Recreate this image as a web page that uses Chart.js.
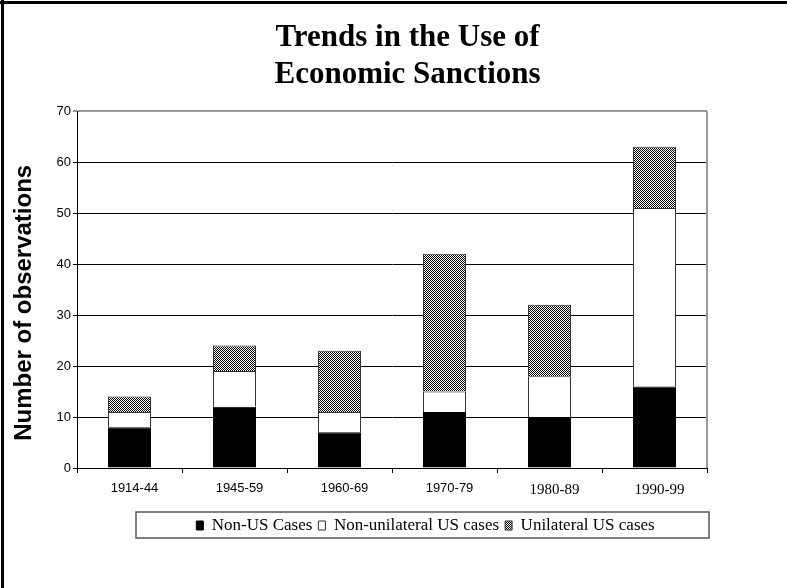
<!DOCTYPE html>
<html>
<head>
<meta charset="utf-8">
<script src="https://cdn.jsdelivr.net/npm/chart.js@4/dist/chart.umd.min.js"></script>
<style>
  body { margin: 0; background: #fff; }
  #wrap { width: 787px; height: 588px; }
</style>
</head>
<body>
<div id="wrap"><canvas id="barChart" width="787" height="588"></canvas></div>
<script>
// periods on the x axis
var periods = ['1914-44', '1945-59', '1960-69', '1970-79', '1980-89', '1990-99']
// stacked counts per period
var nonUsCases = [8, 12, 7, 11, 10, 16]
var nonUnilateralUs = [3, 7, 4, 4, 8, 35]
var unilateralUs = [3, 5, 12, 27, 14, 12]
var yTicks = [0, 10, 20, 30, 40, 50, 60, 70]

// little 2x2 checker used for the "unilateral" fill
function checker() {
  var c = document.createElement('canvas')
  c.width = 2; c.height = 2
  var g = c.getContext('2d')
  g.fillStyle = '#fff'; g.fillRect(0, 0, 2, 2)
  g.fillStyle = '#000'; g.fillRect(0, 0, 1, 1); g.fillRect(1, 1, 1, 1)
  return g.createPattern(c, 'repeat')
}
var ctx = document.getElementById('barChart').getContext('2d')
var dots = checker()

// nudge title / legend sideways, draw frame + legend box + right border
var decor = {
  id: 'decor',
  afterLayout: function (chart) {
    chart.titleBlock.left += 54; chart.titleBlock.right += 54
    chart.legend.left += 72; chart.legend.right += 72
  },
  afterDraw: function (chart) {
    var c = chart.ctx, a = chart.chartArea
    c.save()
    c.strokeStyle = '#999'; c.lineWidth = 2
    c.beginPath(); c.moveTo(a.right, a.top); c.lineTo(a.right, a.bottom); c.stroke()
    c.strokeStyle = '#000'; c.lineWidth = 3
    c.beginPath(); c.moveTo(0, 2.5); c.lineTo(787, 2.5); c.moveTo(2.5, 0); c.lineTo(2.5, 588); c.stroke()
    c.strokeStyle = '#555'; c.lineWidth = 1.5
    c.strokeRect(136, 512, 573, 26)
    c.restore()
  }
}

new Chart(ctx, {
  type: 'bar',
  data: {
    labels: periods,
    datasets: [
      { label: 'Non-US Cases', data: nonUsCases, backgroundColor: '#000', borderColor: '#000', borderWidth: 1 },
      { label: 'Non-unilateral US cases', data: nonUnilateralUs, backgroundColor: '#fff', borderColor: '#333', borderWidth: 1 },
      { label: 'Unilateral US cases', data: unilateralUs, backgroundColor: dots, borderColor: '#333', borderWidth: 1 }
    ]
  },
  options: {
    responsive: false,
    animation: false,
    layout: { padding: { top: 0, left: 0, right: 80, bottom: 44 } },
    datasets: { bar: { barPercentage: 0.41, categoryPercentage: 1 } },
    plugins: {
      title: {
        display: true,
        text: ['Trends in the Use of', 'Economic Sanctions'],
        color: '#000',
        font: { family: 'Liberation Serif', size: 31, weight: 'bold', lineHeight: 37 / 31 },
        padding: { top: 19, bottom: 18 }
      },
      legend: {
        position: 'bottom',
        labels: {
          color: '#000',
          font: { family: 'Liberation Serif', size: 17 },
          boxWidth: 7, boxHeight: 9, padding: 6
        }
      },
      tooltip: { enabled: false }
    },
    scales: {
      x: {
        stacked: true,
        grid: { drawOnChartArea: false, color: '#000', tickLength: 5 },
        border: { color: '#000' },
        ticks: {
          color: '#000', labelOffset: 5, padding: 8, maxRotation: 0,
          font: function (c) {
            return c.index >= 4 ? { family: 'Liberation Serif', size: 15 } : { family: 'Liberation Sans', size: 13 }
          }
        },
        afterFit: function (s) { s.height = 43 }
      },
      y: {
        stacked: true,
        min: 0, max: 70,
        afterBuildTicks: function (s) { s.ticks = yTicks.map(function (v) { return { value: v } }) },
        grid: {
          color: function (c) { return c.tick && c.tick.value === 70 ? '#999' : '#000' },
          lineWidth: function (c) { return c.tick && c.tick.value === 70 ? 2 : 1 },
          tickLength: 4
        },
        border: { color: '#000' },
        ticks: { color: '#000', padding: 2, font: { family: 'Liberation Sans', size: 13 } },
        title: {
          display: true,
          text: 'Number of observations\u00a0\u00a0\u00a0\u00a0',
          color: '#000',
          font: { family: 'Liberation Sans', size: 24, weight: 'bold' },
          padding: { top: 10, bottom: 0 }
        },
        afterFit: function (s) { s.width = 77 }
      }
    }
  },
  plugins: [decor]
})
</script>
</body>
</html>
